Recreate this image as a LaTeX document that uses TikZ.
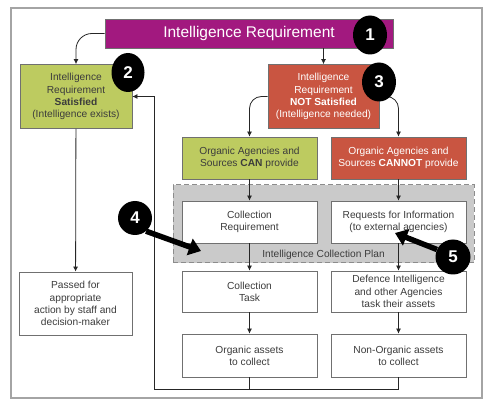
\documentclass[tikz,border=0pt]{standalone}
\usepackage{fontspec}
\setmainfont{Liberation Sans}
\usetikzlibrary{arrows.meta,shapes.geometric}
\definecolor{irpurple}{HTML}{A2197F}
\definecolor{okgreen}{HTML}{BDCB60}
\definecolor{nored}{HTML}{C95541}
\definecolor{boxline}{HTML}{707070}
\definecolor{txtgray}{HTML}{3C3C3C}
\definecolor{planfill}{HTML}{CACACA}
\definecolor{planline}{HTML}{8C8C8C}
\definecolor{frameline}{HTML}{A4A4A4}
\begin{document}
\begin{tikzpicture}[x=1pt,y=-1pt,
  font=\fontsize{10.2}{12.2}\selectfont,
  basebox/.style={draw=boxline, line width=0.8pt, inner sep=0pt, align=center},
  whitebox/.style={basebox, fill=white, text=txtgray, minimum width=135pt},
  greenbox/.style={basebox, fill=okgreen, text=txtgray},
  redbox/.style={basebox, fill=nored, text=white},
  conn/.style={draw=black!85, line width=0.8pt, -{Latex[length=5pt,width=5pt]}},
  plain/.style={draw=black!85, line width=0.8pt},
  badge/.style={fill=black, text=white, inner sep=0pt,
    font=\fontsize{17}{17}\selectfont\bfseries},
  pointer/.style={draw=black, fill=black, line width=5.5pt,
    -{Triangle[length=12pt,width=17pt]}}]
\useasboundingbox (0,0) rectangle (499,401);

% outer frame
\draw[frameline, line width=1.2pt] (11,8) rectangle (482,398);

% intelligence collection plan band
\node[draw=planline, fill=planfill, dashed, dash pattern=on 5pt off 3pt,
      line width=1pt, minimum width=301pt, minimum height=78pt, inner sep=0pt]
      (icp) at (323.5,224) {};
\node[text=txtgray] (icplabel) at (323.5,255) {Intelligence Collection Plan};

% boxes
\node[basebox, fill=irpurple, text=white, minimum width=288pt, minimum height=29pt,
      font=\fontsize{15.5}{18}\selectfont] (title) at (249,33.5) {Intelligence Requirement};
\node[greenbox, minimum width=112pt, minimum height=64pt] (sat) at (76,96.5)
  {Intelligence\\Requirement\\\textbf{Satisfied}\\(Intelligence exists)};
\node[redbox, minimum width=111pt, minimum height=64pt] (notsat) at (323.5,96.5)
  {Intelligence\\Requirement\\\textbf{NOT Satisfied}\\(Intelligence needed)};
\node[greenbox, minimum width=135pt, minimum height=42pt] (can) at (249.5,158)
  {Organic Agencies and\\Sources \textbf{CAN} provide};
\node[redbox, minimum width=135pt, minimum height=42pt] (cannot) at (398.5,158)
  {Organic Agencies and\\Sources \textbf{CANNOT} provide};
\node[whitebox, minimum height=42pt] (cr) at (249.5,222) {Collection\\Requirement};
\node[whitebox, minimum height=42pt] (rfi) at (398.5,222)
  {Requests for Information\\(to external agencies)};
\node[whitebox, minimum height=41pt] (task) at (249.5,291.5) {Collection\\Task};
\node[whitebox, minimum height=41pt] (def) at (398.5,291.5)
  {Defence Intelligence\\and other Agencies\\task their assets};
\node[whitebox, minimum height=43pt] (org) at (249.5,355.5) {Organic assets\\to collect};
\node[whitebox, minimum height=43pt] (nonorg) at (398.5,355.5)
  {Non-Organic assets\\to collect};
\node[whitebox, minimum width=113pt, minimum height=63pt] (passed) at (75.5,303.5)
  {Passed for\\appropriate\\action by staff and\\decision-maker};

% connectors
\draw[conn, rounded corners=16pt] (title.west) -| (sat.north);
\draw[conn] (title.south -| notsat.north) -- (notsat.north);
\draw[conn, rounded corners=12pt] (notsat.west) -| (can.north);
\draw[conn, rounded corners=12pt] (notsat.east) -| (cannot.north);
\draw[conn] (can) -- (cr);
\draw[conn] (cannot) -- (rfi);
\draw[conn] (cr) -- (task);
\draw[conn] (rfi) -- (def);
\draw[conn] (task) -- (org);
\draw[conn] (def) -- (nonorg);
\draw[conn] (sat) -- (passed);
\coordinate (fb) at (154,389);
\draw[conn] (org.south) |- (fb) |- (sat.east);
\draw[plain] (nonorg.south) |- (org.south |- fb);

% numbered badges
\node[badge, ellipse, minimum width=34pt, minimum height=39pt] (c1) at (370,35) {1};
\node[badge, ellipse, minimum width=33pt, minimum height=39pt] (c2) at (128,72.5) {2};
\node[badge, ellipse, minimum width=34pt, minimum height=39pt] (c3) at (379,82) {3};
\node[badge, circle, minimum size=34pt] (c4) at (135,218) {4};
\node[badge, circle, minimum size=35pt] (c5) at (453,257) {5};

% pointers from badges
\coordinate (t4) at (201,251);
\coordinate (t5) at (395,233);
\draw[pointer] (c4.-50) -- (t4);
\draw[pointer] (c5.155) -- (t5);
\end{tikzpicture}
\end{document}
